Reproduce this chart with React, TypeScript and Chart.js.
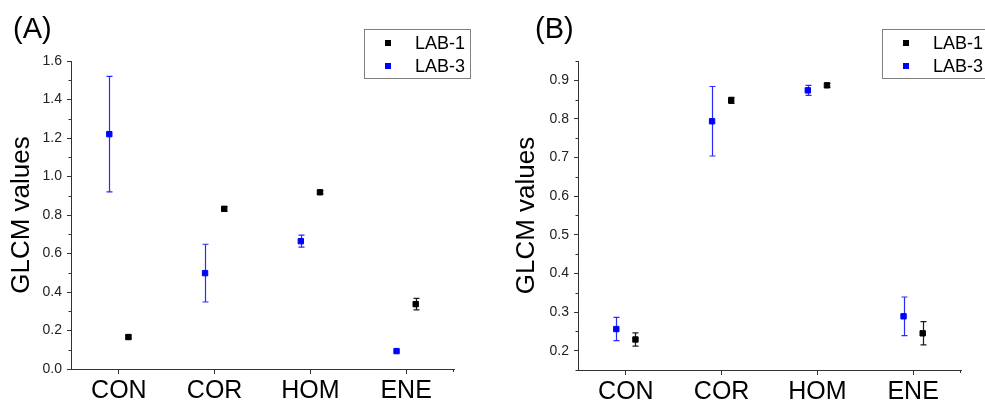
import React, { useEffect, useRef } from "react";
import { Chart, registerables } from "chart.js";

Chart.register(...registerables);

const categories = ["CON", "COR", "HOM", "ENE"];
const seriesNames = ["LAB-1", "LAB-3"];
const seriesColors = ["#000000", "#0000ff"];
const errorColors = ["#1a1a1a", "#2a2aff"];
const seriesOffsets = [0.1, -0.1];

const panelA_lab1 = [0.166, 0.832, 0.918, 0.337];
const panelA_lab1_err = [0.01, 0.012, 0.008, 0.03];
const panelA_lab3 = [1.22, 0.498, 0.664, 0.093];
const panelA_lab3_err = [0.3, 0.15, 0.031, 0.0];

const panelB_lab1 = [0.229, 0.848, 0.887, 0.245];
const panelB_lab1_err = [0.017, 0.008, 0.005, 0.03];
const panelB_lab3 = [0.256, 0.794, 0.874, 0.289];
const panelB_lab3_err = [0.03, 0.09, 0.013, 0.05];

const panelA_yTicks = [0, 0.2, 0.4, 0.6, 0.8, 1.0, 1.2, 1.4, 1.6];
const panelA_yMinor = [0.1, 0.3, 0.5, 0.7, 0.9, 1.1, 1.3, 1.5];
const panelB_yTicks = [0.2, 0.3, 0.4, 0.5, 0.6, 0.7, 0.8, 0.9];
const panelB_yMinor = [0.15, 0.25, 0.35, 0.45, 0.55, 0.65, 0.75, 0.85, 0.95];

const FONT = "'Liberation Sans', Arial, Helvetica, sans-serif";

type Panel = {
  label: string;
  values: number[][];
  errors: number[][];
  yMin: number;
  yMax: number;
  yTicks: number[];
  yMinor: number[];
  canvasWidth: number;
  axisLeft: number;
  padRight: number;
  padTop: number;
  xAxisHeight: number;
  titlePad: number;
  panelLabelX: number;
  legendX: number;
};

const panels: Panel[] = [
  {
    label: "(A)",
    values: [panelA_lab1, panelA_lab3],
    errors: [panelA_lab1_err, panelA_lab3_err],
    yMin: 0,
    yMax: 1.6,
    yTicks: panelA_yTicks,
    yMinor: panelA_yMinor,
    canvasWidth: 490,
    axisLeft: 71,
    padRight: 36,
    padTop: 61,
    xAxisHeight: 32,
    titlePad: 6,
    panelLabelX: 13,
    legendX: 364,
  },
  {
    label: "(B)",
    values: [panelB_lab1, panelB_lab3],
    errors: [panelB_lab1_err, panelB_lab3_err],
    yMin: 0.15,
    yMax: 0.95,
    yTicks: panelB_yTicks,
    yMinor: panelB_yMinor,
    canvasWidth: 495,
    axisLeft: 88,
    padRight: 24,
    padTop: 61,
    xAxisHeight: 31,
    titlePad: 21,
    panelLabelX: 45,
    legendX: 392,
  },
];

const extrasPlugin = {
  id: "extras",
  beforeDatasetsDraw(chart: any) {
    const ctx = chart.ctx;
    const ys = chart.scales.y;
    const xs = chart.scales.x;
    ctx.save();
    chart.data.datasets.forEach((ds: any) => {
      ctx.strokeStyle = ds.errColor;
      ctx.lineWidth = 1.2;
      ds.data.forEach((pt: any, i: number) => {
        const e = ds.errors[i];
        if (!e) return;
        const px = Math.round(xs.getPixelForValue(pt.x)) + 0.5;
        const top = ys.getPixelForValue(pt.y + e);
        const bot = ys.getPixelForValue(pt.y - e);
        ctx.beginPath();
        ctx.moveTo(px, top);
        ctx.lineTo(px, bot);
        ctx.moveTo(px - 3, top);
        ctx.lineTo(px + 3, top);
        ctx.moveTo(px - 3, bot);
        ctx.lineTo(px + 3, bot);
        ctx.stroke();
      });
    });
    ctx.restore();
  },
  afterDraw(chart: any) {
    const ctx = chart.ctx;
    const p: Panel = chart.options.plugins.extras.panel;
    const ys = chart.scales.y;
    const xs = chart.scales.x;
    const area = chart.chartArea;
    ctx.save();
    // minor ticks on y
    ctx.strokeStyle = "#333";
    ctx.lineWidth = 1;
    p.yMinor.forEach((v) => {
      const py = Math.round(ys.getPixelForValue(v)) + 0.5;
      ctx.beginPath();
      ctx.moveTo(area.left - 2.5, py);
      ctx.lineTo(area.left, py);
      ctx.stroke();
    });
    // end tick on x axis
    const ex = Math.round(xs.getPixelForValue(4.5)) - 0.5;
    ctx.beginPath();
    ctx.moveTo(ex, area.bottom);
    ctx.lineTo(ex, area.bottom + 3);
    ctx.stroke();

    // panel label
    ctx.fillStyle = "#000";
    ctx.font = `29px ${FONT}`;
    ctx.textAlign = "left";
    ctx.textBaseline = "alphabetic";
    ctx.fillText(p.label, p.panelLabelX, 38);

    // legend
    const lx = p.legendX;
    const ly = 29;
    ctx.strokeStyle = "#808080";
    ctx.lineWidth = 1;
    ctx.strokeRect(lx + 0.5, ly + 0.5, 106, 49);
    ctx.font = `18px ${FONT}`;
    ctx.textBaseline = "middle";
    seriesNames.forEach((name, i) => {
      const cy = ly + 14 + i * 23;
      ctx.fillStyle = seriesColors[i];
      ctx.fillRect(lx + 21, cy - 3, 6, 6);
      ctx.fillStyle = "#000";
      ctx.fillText(name, lx + 51, cy + 1);
    });
    ctx.restore();
  },
};

function makeConfig(p: Panel): any {
  return {
    type: "scatter",
    data: {
      datasets: seriesNames.map((name, si) => ({
        label: name,
        data: p.values[si].map((v, i) => ({ x: i + 1 + seriesOffsets[si], y: v })),
        errors: p.errors[si],
        errColor: errorColors[si],
        backgroundColor: seriesColors[si],
        borderColor: seriesColors[si],
        pointStyle: "rect",
        pointRadius: 3.8,
        pointBorderWidth: 1,
        pointHoverRadius: 3.8,
      })),
    },
    options: {
      responsive: false,
      animation: false,
      devicePixelRatio: 1,
      events: [],
      layout: { padding: { left: 0, right: p.padRight, top: p.padTop, bottom: 0 } },
      plugins: {
        legend: { display: false },
        tooltip: { enabled: false },
        title: { display: false },
        extras: { panel: p },
      },
      scales: {
        x: {
          type: "linear",
          min: 0.5,
          max: 4.5,
          afterBuildTicks: (scale: any) => {
            scale.ticks = categories.map((_, i) => ({ value: i + 1 }));
          },
          afterFit: (scale: any) => {
            scale.height = p.xAxisHeight;
          },
          grid: {
            drawOnChartArea: false,
            drawTicks: true,
            tickLength: 5,
            color: "#333",
          },
          border: { display: true, color: "#333", width: 1 },
          ticks: {
            autoSkip: false,
            maxRotation: 0,
            padding: 2,
            color: "#000",
            font: { size: 25, family: FONT },
            callback: (v: number) => categories[Math.round(v) - 1] ?? "",
          },
        },
        y: {
          type: "linear",
          min: p.yMin,
          max: p.yMax,
          afterBuildTicks: (scale: any) => {
            scale.ticks = p.yTicks.map((v) => ({ value: v }));
          },
          afterFit: (scale: any) => {
            scale.width = p.axisLeft;
          },
          grid: {
            drawOnChartArea: false,
            drawTicks: true,
            tickLength: 4,
            color: "#333",
          },
          border: { display: true, color: "#333", width: 1 },
          title: {
            display: true,
            text: "GLCM values",
            color: "#000",
            font: { size: 26, family: FONT },
            padding: { top: p.titlePad, bottom: 0 },
          },
          ticks: {
            autoSkip: false,
            padding: 5,
            color: "#222",
            font: { size: 14, family: FONT },
            callback: (v: number) => Number(v).toFixed(1),
          },
        },
      },
    },
    plugins: [extrasPlugin],
  };
}

function PanelChart({ p, left }: { p: Panel; left: number }) {
  const ref = useRef<HTMLCanvasElement | null>(null);
  useEffect(() => {
    if (!ref.current) return;
    const chart = new Chart(ref.current, makeConfig(p));
    return () => chart.destroy();
  }, [p]);
  return (
    <canvas
      ref={ref}
      width={p.canvasWidth}
      height={401}
      style={{
        position: "absolute",
        left,
        top: 0,
        width: p.canvasWidth,
        height: 401,
        display: "block",
      }}
    />
  );
}

export default function App() {
  return (
    <div
      style={{
        position: "absolute",
        left: 0,
        top: 0,
        width: 985,
        height: 401,
        background: "#ffffff",
        overflow: "hidden",
      }}
    >
      <PanelChart p={panels[0]} left={0} />
      <PanelChart p={panels[1]} left={490} />
    </div>
  );
}
